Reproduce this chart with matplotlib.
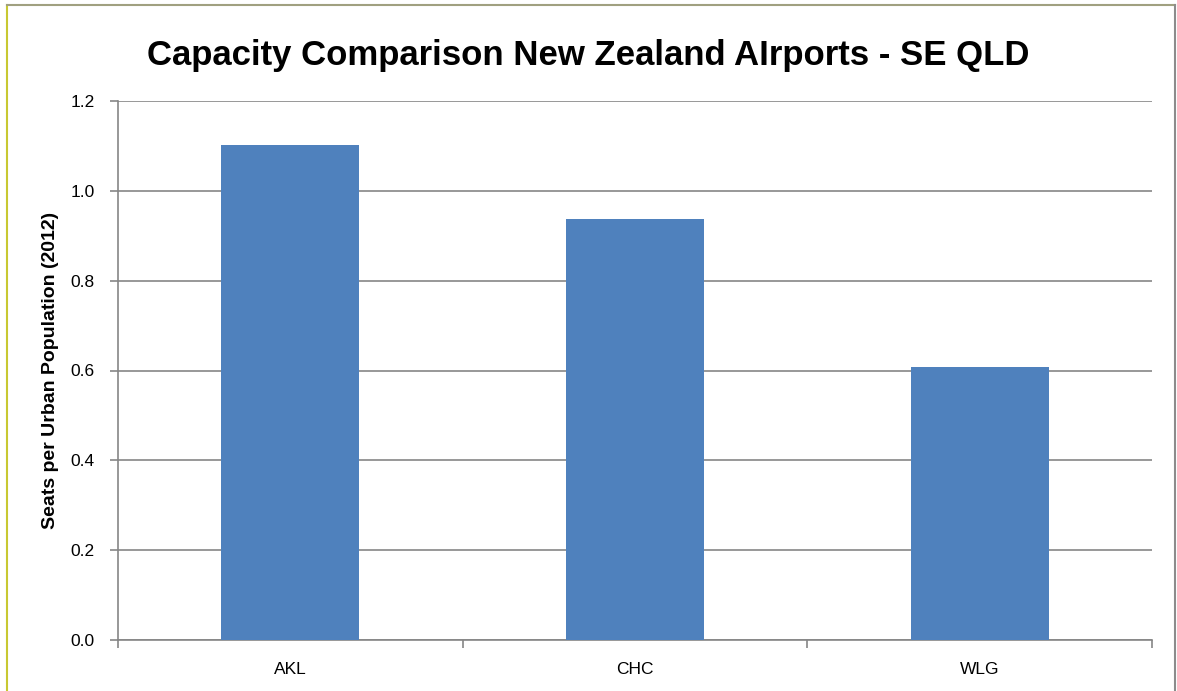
import matplotlib.pyplot as plt
from matplotlib.lines import Line2D

aeroports = ["AKL", "CHC", "WLG"]
sieges = [1.102, 0.938, 0.607]
graduations = [0.0, 0.2, 0.4, 0.6, 0.8, 1.0, 1.2]

plt.rcParams['font.family'] = ['Liberation Sans', 'DejaVu Sans']

fig = plt.figure(figsize=(11.77, 6.91), dpi=100)
ax = fig.add_axes([118 / 1177, 1 - 640 / 691, (1152 - 118) / 1177, (640 - 101) / 691])

x = list(range(len(aeroports)))
ax.bar(x, sieges, width=0.4, color="#4f81bd", zorder=3)

ax.set_xlim(-0.5, len(aeroports) - 0.5)
ax.set_ylim(0, 1.2)
ax.set_yticks(graduations)
ax.set_yticklabels([f"{v:.1f}" for v in graduations], fontsize=12.5)
ax.set_xticks(x)
ax.set_xticklabels(aeroports, fontsize=12.5)
ax.set_xticks([i - 0.5 for i in range(len(aeroports) + 1)], minor=True)
ax.tick_params(axis="x", which="major", length=0, pad=16)
ax.tick_params(axis="x", which="minor", length=6, color="#868686", width=1.2)
ax.tick_params(axis="y", length=6, color="#868686", width=1.2, pad=11)

ax.grid(axis="y", color="#868686", linewidth=1.2, zorder=0)
for cote in ["top", "right"]:
	ax.spines[cote].set_visible(False)
ax.spines["left"].set_color("#868686")
ax.spines["bottom"].set_color("#868686")
ax.spines["left"].set_linewidth(1.2)
ax.spines["bottom"].set_linewidth(1.2)

ax.set_ylabel("Seats per Urban Population (2012)", fontsize=14, fontweight="bold", labelpad=8)

fig.text(588 / 1177, 1 - 55 / 691, "Capacity Comparison New Zealand AIrports - SE QLD",
	ha="center", va="center", fontsize=25, fontweight="bold")

# cadre du graphique
fig.add_artist(Line2D([7 / 1177, 7 / 1177], [0, 1 - 5 / 691], color="#c8c832", linewidth=1.5))
fig.add_artist(Line2D([7 / 1177, 1175 / 1177], [1 - 5 / 691, 1 - 5 / 691], color="#a0a080", linewidth=1.5))
fig.add_artist(Line2D([1175 / 1177, 1175 / 1177], [0, 1 - 5 / 691], color="#8c8c8c", linewidth=1.5))

fig.savefig("out.png", dpi=100)
